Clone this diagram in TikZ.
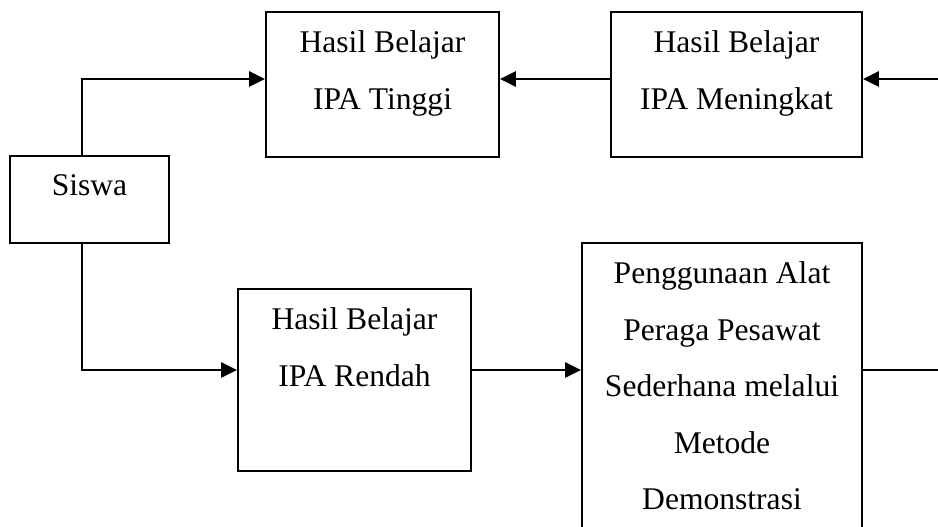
\documentclass[tikz,border=0pt]{standalone}
\usepackage{fontspec}
\setmainfont{Liberation Serif}
\usetikzlibrary{arrows.meta}

\begin{document}
\begin{tikzpicture}[x=0.38pt, y=-0.38pt,
    kotak/.style={draw, line width=0.8pt, inner sep=0pt},
    isi/.style={anchor=north, align=center, inner sep=0pt, font=\fontsize{12}{21.5}\selectfont},
    garis/.style={line width=1pt},
    panah/.style={garis, -{Triangle[length=6pt, width=5.7pt]}}]
        \clip (0,0) rectangle (938,527);
        \fill[white] (0,0) rectangle (938,527);

        % kotak-kotak
        \node[kotak, minimum width=159*0.38pt, minimum height=87*0.38pt] (siswa) at (89.5,199.5) {};
        \node[kotak, minimum width=233*0.38pt, minimum height=145*0.38pt] (tinggi) at (382.5,84.5) {};
        \node[kotak, minimum width=251*0.38pt, minimum height=145*0.38pt] (meningkat) at (736.5,84.5) {};
        \node[kotak, minimum width=233*0.38pt, minimum height=182*0.38pt] (rendah) at (354.5,380) {};
        \node[kotak, minimum width=280*0.38pt, minimum height=302*0.38pt] (metode) at (722,394) {};

        \node[isi] (siswa-t) at (89.5,174) {Siswa};
        \node[isi] (tinggi-t) at (382.5,30) {Hasil Belajar\\IPA Tinggi};
        \node[isi] (meningkat-t) at (736.5,30) {Hasil Belajar\\IPA Meningkat};
        \node[isi] (rendah-t) at (354.5,307) {Hasil Belajar\\IPA Rendah};
        \node[isi] (metode-t) at (722,261) {Penggunaan Alat\\Peraga Pesawat\\Sederhana melalui\\Metode\\Demonstrasi};

        \coordinate (atas) at (82,79);
        \coordinate (bawah) at (82,370);
        \coordinate (ujung1) at (938,370);
        \coordinate (ujung2) at (938,79);

        % panah
        \draw[panah] (siswa.north -| atas) -- (atas) -- (atas -| tinggi.west);
        \draw[panah] (siswa.south -| bawah) -- (bawah) -- (bawah -| rendah.west);
        \draw[panah] (bawah -| rendah.east) -- (bawah -| metode.west);
        \draw[garis] (bawah -| metode.east) -- (ujung1);
        \draw[panah] (ujung2) -- (ujung2 -| meningkat.east);
        \draw[panah] (atas -| meningkat.west) -- (atas -| tinggi.east);
\end{tikzpicture}
\end{document}
